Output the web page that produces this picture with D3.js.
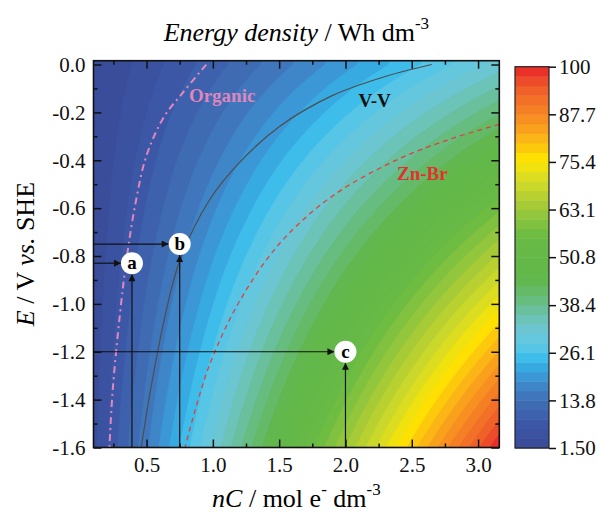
<!DOCTYPE html>
<html>
<head>
<meta charset="utf-8">
<script src="https://cdn.jsdelivr.net/npm/d3@7"></script>
<style>
  body { margin: 0; background: #fff; }
  svg { font-family: "Liberation Serif", "Times New Roman", serif; }
</style>
</head>
<body>
<div id="chart"></div>
<script>
const nCGrid = [0.1, 0.5, 1.0, 1.5, 2.0, 2.5, 3.0, 3.16]
const EGrid  = [0.0, -0.4, -0.8, -1.2, -1.6]
const energyE00 = [1.0, 5.1, 10.2, 15.2, 20.3, 25.4, 30.5, 32.1]
const energyE04 = [1.6, 7.8, 15.5, 23.3, 31.0, 38.8, 46.6, 49.0]
const energyE08 = [2.1, 10.4, 20.9, 31.3, 41.8, 52.2, 62.6, 66.0]
const energyE12 = [2.6, 13.1, 26.2, 39.4, 52.5, 65.6, 78.7, 82.9]
const energyE16 = [3.2, 15.8, 31.6, 47.4, 63.2, 79.0, 94.8, 99.9]

// system curves (nC, E)
const organicNC = [0.95, 0.77, 0.63, 0.50, 0.42, 0.355, 0.30, 0.245, 0.22]
const organicE  = [0.0, -0.12, -0.22, -0.38, -0.57, -0.79, -1.04, -1.36, -1.6]
const vvNC = [2.65, 2.3, 1.9, 1.5, 1.2, 0.97, 0.75, 0.64, 0.53, 0.46]
const vvE  = [0.0, -0.05, -0.13, -0.26, -0.41, -0.57, -0.82, -1.05, -1.36, -1.6]
const znbrNC = [3.16, 2.8, 2.4, 1.9, 1.5, 1.2, 1.0, 0.9, 0.79]
const znbrE  = [-0.25, -0.31, -0.395, -0.55, -0.75, -0.99, -1.22, -1.38, -1.6]

// marked cases
const pointLabels = ['a', 'b', 'c']
const pointNC = [0.39, 0.75, 2.0]
const pointE  = [-0.83, -0.75, -1.2]

// axes / colour bar
const xTicks = [0.5, 1.0, 1.5, 2.0, 2.5, 3.0]
const xTickLabels = ['0.5', '1.0', '1.5', '2.0', '2.5', '3.0']
const xMinor = [0.25, 0.75, 1.25, 1.75, 2.25, 2.75]
const yTicks = [0.0, -0.2, -0.4, -0.6, -0.8, -1.0, -1.2, -1.4, -1.6]
const yTickLabels = ['0.0', '-0.2', '-0.4', '-0.6', '-0.8', '-1.0', '-1.2', '-1.4', '-1.6']
const yMinor = [-0.1, -0.3, -0.5, -0.7, -0.9, -1.1, -1.3, -1.5]
const cbTicks = [1.5, 13.8, 26.1, 38.4, 50.8, 63.1, 75.4, 87.7, 100]
const cbTickLabels = ['1.50', '13.8', '26.1', '38.4', '50.8', '63.1', '75.4', '87.7', '100']
const cbMin = 1.5, cbMax = 100, nLevels = 40

const energy = [energyE00, energyE04, energyE08, energyE12, energyE16]

const WIDTH = 598, HEIGHT = 521
const PLOT = {left: 93.5, right: 499.3, top: 60.7, bottom: 447.5}

const x = d3.scaleLinear().domain([0.1, 3.16]).range([PLOT.left, PLOT.right])
const y = d3.scaleLinear().domain([-1.6, 0.016]).range([PLOT.bottom, PLOT.top])

const color = d3.scaleLinear()
    .domain([1.5, 8, 13.8, 19, 22.5, 25, 28, 32, 36, 40, 45, 56, 61, 66, 71, 76, 80, 84, 89, 95, 100])
    .range(['#3a4a99', '#3b58a6', '#4070b6', '#3e8fd1', '#38abe2', '#3fbeea', '#5ec8e5', '#6cc6d4',
            '#6cc1aa', '#67bc7c', '#62b74b', '#68ba44', '#8cc43e', '#b3cf33', '#d6dc26', '#ffe500',
            '#fdc111', '#f9a11d', '#f47e25', '#ee5a2a', '#e8232a'])
    .clamp(true)

const svg = d3.select('#chart').append('svg')
    .attr('width', WIDTH)
    .attr('height', HEIGHT)

svg.append('rect').attr('width', WIDTH).attr('height', HEIGHT).attr('fill', '#fff')

const defs = svg.append('defs')
defs.append('clipPath').attr('id', 'clip')
  .append('rect')
    .attr('x', PLOT.left).attr('y', PLOT.top)
    .attr('width', PLOT.right - PLOT.left).attr('height', PLOT.bottom - PLOT.top)

defs.append('marker')
    .attr('id', 'arrow')
    .attr('viewBox', '0 0 10 10')
    .attr('refX', 10).attr('refY', 5)
    .attr('markerWidth', 10).attr('markerHeight', 7)
    .attr('markerUnits', 'userSpaceOnUse')
    .attr('orient', 'auto')
  .append('path')
    .attr('d', 'M0,0L10,5L0,10z')
    .attr('fill', '#111')

// locate v in a monotone grid -> [index, fraction]
function locate(grid, v) {
    const n = grid.length
    const asc = grid[n - 1] > grid[0]
    let i = 0
    while (i < n - 2 && (asc ? v > grid[i + 1] : v < grid[i + 1])) i++
    let t = (v - grid[i]) / (grid[i + 1] - grid[i])
    return [i, Math.max(0, Math.min(1, t))]
}

function energyAt(nc, e) {
    const [i, tx] = locate(nCGrid, nc)
    const [j, ty] = locate(EGrid, e)
    const top = energy[j][i] * (1 - tx) + energy[j][i + 1] * tx
    const bot = energy[j + 1][i] * (1 - tx) + energy[j + 1][i + 1] * tx
    return top * (1 - ty) + bot * ty
}

// sample the table on a fine raster so d3.contours can draw the bands
const nx = 203, ny = 194
const cw = (PLOT.right - PLOT.left) / nx, ch = (PLOT.bottom - PLOT.top) / ny
const values = new Array(nx * ny)
for (let j = 0; j < ny; j++) {
    for (let i = 0; i < nx; i++) {
        values[i + j * nx] = energyAt(x.invert(PLOT.left + (i + 0.5) * cw),
                                      y.invert(PLOT.top + (j + 0.5) * ch))
    }
}

const step = (cbMax - cbMin) / nLevels
const levels = d3.range(nLevels).map(i => cbMin + i * step)
const contours = d3.contours().size([nx, ny]).thresholds(levels)(values)

const toPlot = d3.geoTransform({
    point: function(px, py) { this.stream.point(PLOT.left + px * cw, PLOT.top + py * ch) }
})
const path = d3.geoPath(toPlot)

const field = svg.append('g').attr('clip-path', 'url(#clip)')

field.append('rect')
    .attr('x', PLOT.left).attr('y', PLOT.top)
    .attr('width', PLOT.right - PLOT.left).attr('height', PLOT.bottom - PLOT.top)
    .attr('fill', color(cbMin + step / 2))

field.selectAll('path.band')
    .data(contours)
    .join('path')
        .attr('class', 'band')
        .attr('d', path)
        .attr('fill', d => color(d.value + step / 2))
        .attr('stroke', d => color(d.value + step / 2))
        .attr('stroke-width', 0.6)

// system curves
const curve = (ncs, es) => d3.line()
    .x(i => x(ncs[i]))
    .y(i => y(es[i]))
    .curve(d3.curveCatmullRom)(d3.range(ncs.length))

field.append('path')
    .attr('d', curve(organicNC, organicE))
    .attr('fill', 'none')
    .attr('stroke', '#e386bf')
    .attr('stroke-width', 2)
    .attr('stroke-dasharray', '7,4,2,4')

field.append('path')
    .attr('d', curve(vvNC, vvE))
    .attr('fill', 'none')
    .attr('stroke', '#4d4d4d')
    .attr('stroke-width', 1.2)

field.append('path')
    .attr('d', curve(znbrNC, znbrE))
    .attr('fill', 'none')
    .attr('stroke', '#e0403c')
    .attr('stroke-width', 1.3)
    .attr('stroke-dasharray', '5,4')

const curveLabels = svg.append('g').style('font-weight', 'bold').style('font-size', '19px')
curveLabels.append('text').attr('x', x(1.07)).attr('y', y(-0.127)).attr('dy', '0.35em')
    .attr('text-anchor', 'middle').attr('fill', '#de86bd').text('Organic')
curveLabels.append('text').attr('x', x(2.22)).attr('y', y(-0.148)).attr('dy', '0.35em')
    .attr('text-anchor', 'middle').attr('fill', '#111').text('V-V')
curveLabels.append('text').attr('x', x(2.58)).attr('y', y(-0.453)).attr('dy', '0.35em')
    .attr('text-anchor', 'middle').attr('fill', '#e2312e').text('Zn-Br')

// arrows to the marked points
const R = 11
const marks = svg.append('g')
marks.selectAll('line.h')
    .data(pointLabels)
    .join('line')
        .attr('class', 'h')
        .attr('x1', PLOT.left).attr('x2', (d, i) => x(pointNC[i]) - R)
        .attr('y1', (d, i) => y(pointE[i])).attr('y2', (d, i) => y(pointE[i]))
        .attr('stroke', '#111').attr('stroke-width', 1.2)
        .attr('marker-end', 'url(#arrow)')
marks.selectAll('line.v')
    .data(pointLabels)
    .join('line')
        .attr('class', 'v')
        .attr('x1', (d, i) => x(pointNC[i])).attr('x2', (d, i) => x(pointNC[i]))
        .attr('y1', PLOT.bottom).attr('y2', (d, i) => y(pointE[i]) + R)
        .attr('stroke', '#111').attr('stroke-width', 1.2)
        .attr('marker-end', 'url(#arrow)')
marks.selectAll('circle')
    .data(pointLabels)
    .join('circle')
        .attr('cx', (d, i) => x(pointNC[i]))
        .attr('cy', (d, i) => y(pointE[i]))
        .attr('r', R)
        .attr('fill', '#fff')
marks.selectAll('text')
    .data(pointLabels)
    .join('text')
        .attr('x', (d, i) => x(pointNC[i]))
        .attr('y', (d, i) => y(pointE[i]))
        .attr('dy', '0.33em')
        .attr('text-anchor', 'middle')
        .style('font-weight', 'bold')
        .style('font-size', '19px')
        .text(d => d)

// axes, ticks inward on all four sides
function styleAxis(g) {
    g.select('.domain').remove()
    g.selectAll('.tick line').attr('stroke', '#111').attr('stroke-width', 1.5)
    g.selectAll('.tick text').attr('fill', '#111').style('font-size', '21px')
        .style('font-family', '"Liberation Serif", serif')
}

svg.append('g')
    .attr('transform', `translate(0, ${PLOT.bottom})`)
    .call(d3.axisBottom(x).tickValues(xTicks).tickSize(-8).tickPadding(10)
        .tickFormat((d, i) => xTickLabels[i]))
    .call(styleAxis)
svg.append('g')
    .attr('transform', `translate(0, ${PLOT.bottom})`)
    .call(d3.axisBottom(x).tickValues(xMinor).tickSize(-4).tickFormat(''))
    .call(styleAxis)
svg.append('g')
    .attr('transform', `translate(0, ${PLOT.top})`)
    .call(d3.axisTop(x).tickValues(xTicks).tickSize(-8).tickFormat(''))
    .call(styleAxis)
svg.append('g')
    .attr('transform', `translate(0, ${PLOT.top})`)
    .call(d3.axisTop(x).tickValues(xMinor).tickSize(-4).tickFormat(''))
    .call(styleAxis)

svg.append('g')
    .attr('transform', `translate(${PLOT.left}, 0)`)
    .call(d3.axisLeft(y).tickValues(yTicks).tickSize(-8).tickPadding(8)
        .tickFormat((d, i) => yTickLabels[i]))
    .call(styleAxis)
svg.append('g')
    .attr('transform', `translate(${PLOT.left}, 0)`)
    .call(d3.axisLeft(y).tickValues(yMinor).tickSize(-4).tickFormat(''))
    .call(styleAxis)
svg.append('g')
    .attr('transform', `translate(${PLOT.right}, 0)`)
    .call(d3.axisRight(y).tickValues(yTicks).tickSize(-8).tickFormat(''))
    .call(styleAxis)
svg.append('g')
    .attr('transform', `translate(${PLOT.right}, 0)`)
    .call(d3.axisRight(y).tickValues(yMinor).tickSize(-4).tickFormat(''))
    .call(styleAxis)

svg.append('rect')
    .attr('x', PLOT.left).attr('y', PLOT.top)
    .attr('width', PLOT.right - PLOT.left).attr('height', PLOT.bottom - PLOT.top)
    .attr('fill', 'none').attr('stroke', '#111').attr('stroke-width', 1.6)

// colour bar
const CB = {left: 515, right: 549, top: 66.7, bottom: 448}
const cbY = d3.scaleLinear().domain([cbMin, cbMax]).range([CB.bottom, CB.top])
svg.append('g').selectAll('rect')
    .data(levels)
    .join('rect')
        .attr('x', CB.left)
        .attr('width', CB.right - CB.left)
        .attr('y', d => cbY(d + step))
        .attr('height', d => cbY(d) - cbY(d + step) + 0.5)
        .attr('fill', d => color(d + step / 2))
svg.append('rect')
    .attr('x', CB.left).attr('y', CB.top)
    .attr('width', CB.right - CB.left).attr('height', CB.bottom - CB.top)
    .attr('fill', 'none').attr('stroke', '#222').attr('stroke-width', 1.2)
svg.append('g')
    .attr('transform', `translate(${CB.right}, 0)`)
    .call(d3.axisRight(cbY).tickValues(cbTicks).tickSize(7).tickPadding(3)
        .tickFormat((d, i) => cbTickLabels[i]))
    .call(styleAxis)

// titles
const title = svg.append('text')
    .attr('x', (PLOT.left + PLOT.right) / 2).attr('y', 41)
    .attr('text-anchor', 'middle')
    .style('font-size', '26px')
title.append('tspan').style('font-style', 'italic').text('Energy density')
title.append('tspan').text(' / Wh dm')
title.append('tspan').attr('dy', -12).style('font-size', '17px').text('-3')

const xTitle = svg.append('text')
    .attr('x', (PLOT.left + PLOT.right) / 2).attr('y', 507)
    .attr('text-anchor', 'middle')
    .style('font-size', '26px')
xTitle.append('tspan').style('font-style', 'italic').text('nC')
xTitle.append('tspan').text(' / mol e')
xTitle.append('tspan').attr('dy', -12).style('font-size', '17px').text('-')
xTitle.append('tspan').attr('dy', 12).text(' dm')
xTitle.append('tspan').attr('dy', -12).style('font-size', '17px').text('-3')

const yTitle = svg.append('text')
    .attr('transform', `translate(34, ${(PLOT.top + PLOT.bottom) / 2}) rotate(-90)`)
    .attr('text-anchor', 'middle')
    .style('font-size', '26px')
yTitle.append('tspan').style('font-style', 'italic').text('E')
yTitle.append('tspan').text(' / V ')
yTitle.append('tspan').style('font-style', 'italic').text('vs.')
yTitle.append('tspan').text(' SHE')
</script>
</body>
</html>
